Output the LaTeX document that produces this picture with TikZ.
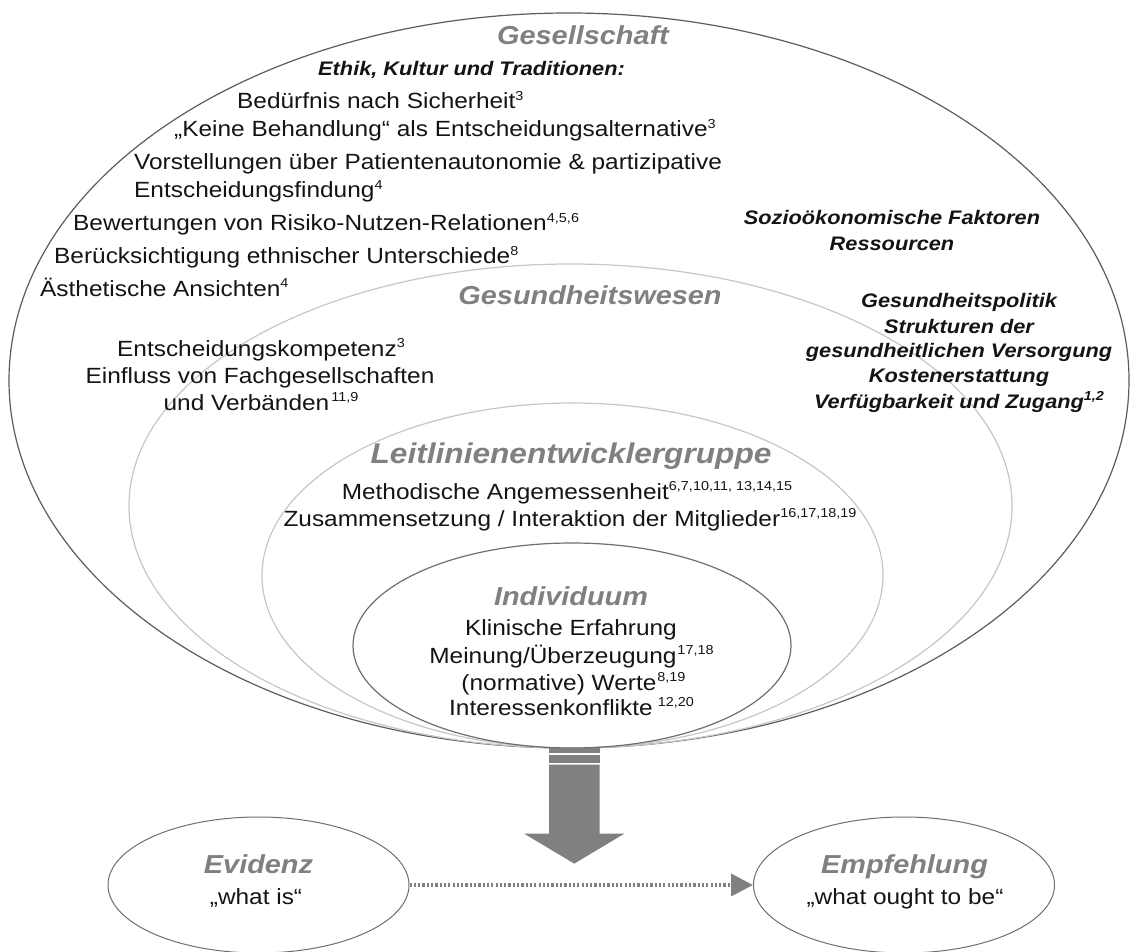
\documentclass[tikz,border=0pt]{standalone}
\usepackage{fontspec}
\setmainfont{Liberation Sans}[FakeStretch=1.11]
\usetikzlibrary{shapes.geometric,arrows.meta,calc}

\definecolor{titlegray}{HTML}{808080}
\definecolor{ringdark}{HTML}{5C5C5C}
\definecolor{ringmid}{HTML}{6E6E6E}
\definecolor{ringlight}{HTML}{C6C6C6}
\definecolor{arrowgray}{HTML}{808080}
\definecolor{ink}{HTML}{141414}

% raised reference numbers
\newcommand\rf[1]{\raisebox{0.4em}{\fontsize{13}{14}\selectfont #1}}

\begin{document}
\begin{tikzpicture}[x=1pt,y=-1pt,
  ring/.style={ellipse, draw, line width=1.2pt, inner sep=0pt},
  ttl/.style={text=titlegray, font=\fontsize{26}{30}\selectfont\bfseries\itshape, inner sep=0pt},
  txt/.style={text=ink, font=\fontsize{22}{26}\selectfont, inner sep=0pt},
  bit/.style={text=ink, font=\fontsize{19.6}{24}\selectfont\bfseries\itshape, inner sep=0pt},
  oval/.style={ellipse, draw=ringmid, line width=1pt, inner sep=0pt,
               minimum width=301pt, minimum height=136pt},
]
\useasboundingbox (0,0) rectangle (1130,952);

% nested spheres of influence
\node[ring, draw=ringdark,  minimum width=1120pt, minimum height=735pt] (soc) at (569,380.5) {};
\node[ring, draw=ringlight, minimum width=883pt,  minimum height=484pt] (hcs) at (570.5,506) {};
\node[ring, draw=ringlight, minimum width=621pt,  minimum height=345pt] (grp) at (572.5,575.5) {};
\node[ring, draw=ringmid,   minimum width=438pt,  minimum height=205pt] (ind) at (572,645.5) {};

% society
\node[ttl, anchor=base] (tsoc) at (583,45) {Gesellschaft};
\node[bit, anchor=base west] (ethik) at (318,76) {Ethik, Kultur und Traditionen:};
\node[txt, anchor=base west] (s1) at (237,109) {Bedürfnis nach Sicherheit\rf{3}};
\node[txt, anchor=base west] (s2) at (174,137) {„Keine Behandlung“ als Entscheidungsalternative\rf{3}};
\node[txt, anchor=base west] (s3) at (134,170) {Vorstellungen über Patientenautonomie \& partizipative};
\node[txt, anchor=base west] (s4) at (134,198) {Entscheidungsfindung\rf{4}};
\node[txt, anchor=base west] (s5) at (73,231) {Bewertungen von Risiko-Nutzen-Relationen\rf{4,5,6}};
\node[txt, anchor=base west] (s6) at (54,264) {Berücksichtigung ethnischer Unterschiede\rf{8}};
\node[txt, anchor=base west] (s7) at (40,296) {Ästhetische Ansichten\rf{4}};
\node[bit, anchor=base] (soz1) at (892,225) {Sozioökonomische Faktoren};
\node[bit, anchor=base] (soz2) at (892,251) {Ressourcen};

% health care system
\node[ttl, anchor=base] (thcs) at (590,304) {Gesundheitswesen};
\node[txt, anchor=base] (h1) at (261,356) {Entscheidungskompetenz\rf{3}};
\node[txt, anchor=base] (h2) at (260,383) {Einfluss von Fachgesellschaften};
\node[txt, anchor=base] (h3) at (261,410) {und Verbänden\kern2pt\rf{11,9}};
\node[bit, anchor=base] (p1) at (959,307) {Gesundheitspolitik};
\node[bit, anchor=base] (p2) at (959,333) {Strukturen der};
\node[bit, anchor=base] (p3) at (959,357.5) {gesundheitlichen Versorgung};
\node[bit, anchor=base] (p4) at (959,382) {Kostenerstattung};
\node[bit, anchor=base] (p5) at (959,408) {Verfügbarkeit und Zugang\rf{1,2}};

% guideline group
\node[ttl, font=\fontsize{28.5}{32}\selectfont\bfseries\itshape, anchor=base] (tgrp) at (571,463) {Leitlinienentwicklergruppe};
\node[txt, anchor=base] (g1) at (567,499) {Methodische Angemessenheit\rf{6,7,10,11, 13,14,15}};
\node[txt, anchor=base] (g2) at (570,526) {Zusammensetzung / Interaktion der Mitglieder\rf{16,17,18,19}};

% individual
\node[ttl, anchor=base] (tind) at (571,605) {Individuum};
\node[txt, anchor=base] (i1) at (571,635) {Klinische Erfahrung};
\node[txt, anchor=base] (i2) at (571.5,663) {Meinung/Überzeugung\kern1pt\rf{17,18}};
\node[txt, anchor=base] (i3) at (573.5,690) {(normative) Werte\kern1pt\rf{8,19}};
\node[txt, anchor=base] (i4) at (571.5,715) {Interessenkonflikte\kern5pt\rf{12,20}};

% broad arrow leaving the spheres
\begin{scope}[shift={(ind.south)}]
  \fill[arrowgray] (-23,-1) rectangle (27.5,4.5);
  \fill[arrowgray] (-23,6.5) rectangle (27.5,14);
  \fill[arrowgray] (-23,16) -- (27.5,16) -- (27.5,85) -- (52.5,85)
        -- (2.25,115) -- (-48,85) -- (-23,85) -- cycle;
\end{scope}

% evidence and recommendation
\node[oval] (evid) at (258.5,885) {};
\node[oval] (empf) at (904,885) {};
\node[ttl, anchor=base] (tevid) at (258.5,873) {Evidenz};
\node[txt, anchor=base] (sevid) at (256,904) {„what is“};
\node[ttl, anchor=base] (tempf) at (904.5,873) {Empfehlung};
\node[txt, anchor=base] (sempf) at (905,904) {„what ought to be“};

\draw[arrowgray, line width=3.5pt, dash pattern=on 2.2pt off 2.1pt,
      -{Triangle[length=22pt,width=22pt]}] (evid.east) -- (empf.west);
\end{tikzpicture}
\end{document}
